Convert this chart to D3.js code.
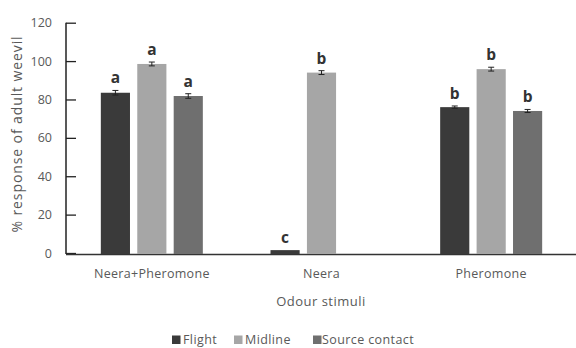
<!DOCTYPE html>
<html><head><meta charset="utf-8">
<script src="https://cdn.jsdelivr.net/npm/d3@7"></script>
<style>body{margin:0;background:#fff}svg{display:block}</style>
</head><body><svg id="c" width="576" height="348"></svg>
<script>
const categories = ["Neera+Pheromone", "Neera", "Pheromone"];
const seriesNames = ["Flight", "Midline", "Source contact"];
const flight = [83.5, 1.5, 76];
const midline = [98.5, 94, 95.8];
const sourceContact = [81.8, null, 74];
const flightErr = [1.2, 0, 0.6];
const midlineErr = [1.0, 1.0, 1.0];
const sourceErr = [1.2, 0, 0.8];
const flightLetters = ["a", "c", "b"];
const midlineLetters = ["a", "b", "b"];
const sourceLetters = ["a", "", "b"];
const yTicks = [0, 20, 40, 60, 80, 100, 120];
const colors = ["#3a3a3a", "#a6a6a6", "#6f6f6f"];

const values = [flight, midline, sourceContact];
const errs = [flightErr, midlineErr, sourceErr];
const letters = [flightLetters, midlineLetters, sourceLetters];

const svg = d3.select("#c");
const font = "Open Sans, sans-serif";
const txt = "#595959";
const y = d3.scaleLinear().domain([0, 120]).range([253, 22.7]);
const x0 = d3.scaleBand().domain(categories).range([67, 576]).paddingInner(0).paddingOuter(0);
const x1 = d3.scaleBand().domain(seriesNames).range([x0.bandwidth()/2 - 51, x0.bandwidth()/2 + 51]).paddingInner(0.2).paddingOuter(0);

// y axis
const yAxis = d3.axisLeft(y).tickValues(yTicks).tickSize(-10).tickPadding(14);
const ga = svg.append("g").attr("transform", "translate(66,0)").call(yAxis);
ga.select(".domain").attr("stroke", "#222").attr("stroke-width", 1.5).attr("d", `M0,${y(0)+1}V${y(120)}`);
ga.selectAll(".tick line").attr("stroke", "#222").attr("stroke-width", 1.3);
ga.selectAll(".tick text").attr("fill", txt).attr("font-family", font).attr("font-size", 12.5);

// x axis
const xa = svg.append("g").attr("transform", `translate(0,${y(0)+1.5})`).call(d3.axisBottom(x0).tickSize(0).tickPadding(15));
xa.select(".domain").attr("stroke", "#333").attr("stroke-width", 1.5).attr("d", "M66,0H576");
xa.selectAll(".tick text").attr("fill", txt).attr("font-family", font).attr("font-size", 12.5).attr("letter-spacing", 0.3);

// bars
seriesNames.forEach((s, si) => {
  const g = svg.append("g");
  categories.forEach((c, ci) => {
    const v = values[si][ci];
    if (v == null) return;
    const bx = x0(c) + x1(s);
    const bw = x1.bandwidth();
    g.append("rect").attr("x", bx).attr("y", y(v)).attr("width", bw).attr("height", y(0) + 1 - y(v)).attr("fill", colors[si]);
    const e = errs[si][ci];
    if (e > 0) {
      const cx = bx + bw/2;
      g.append("path").attr("d", `M${cx-3},${y(v+e)}H${cx+3}M${cx},${y(v+e)}V${y(v-e)}M${cx-3},${y(v-e)}H${cx+3}`)
        .attr("stroke", "#222").attr("stroke-width", 1).attr("fill", "none");
    }
    const L = letters[si][ci];
    if (L) {
      g.append("text").attr("x", bx + bw/2).attr("y", y(v + e) - 7).attr("text-anchor", "middle")
        .attr("font-family", font).attr("font-weight", "bold").attr("font-size", 15.5).attr("fill", "#333").text(L);
    }
  });
});

// axis titles
svg.append("text").attr("transform", "translate(22,134) rotate(-90)").attr("text-anchor", "middle")
  .attr("font-family", font).attr("font-size", 14).attr("letter-spacing", 0.9).attr("fill", txt).text("% response of adult weevil");
svg.append("text").attr("x", 321).attr("y", 306).attr("text-anchor", "middle")
  .attr("font-family", font).attr("font-size", 13).attr("letter-spacing", 0.5).attr("fill", txt).text("Odour stimuli");

// legend
const legX = [172, 234, 313];
seriesNames.forEach((s, i) => {
  svg.append("rect").attr("x", legX[i]).attr("y", 335.5).attr("width", 8.5).attr("height", 8.5).attr("fill", colors[i]);
  svg.append("text").attr("x", legX[i] + (i === 2 ? 9 : 11)).attr("y", 344).attr("font-family", font).attr("font-size", 12.5).attr("letter-spacing", 0.4).attr("fill", txt).text(s);
});
</script></body></html>
